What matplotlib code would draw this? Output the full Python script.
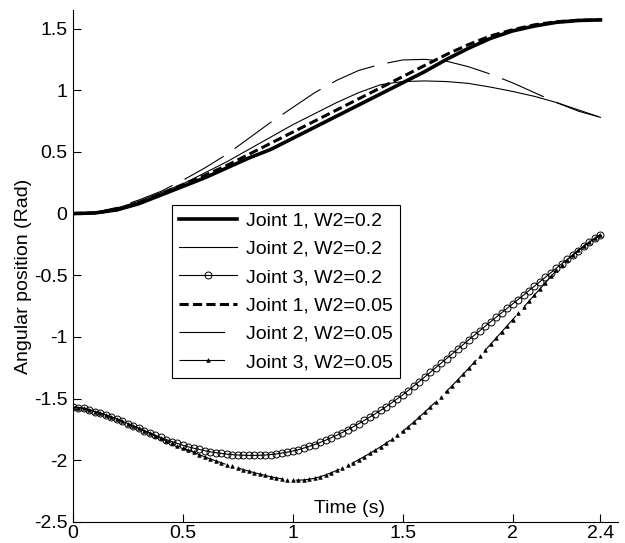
import numpy as np
import matplotlib
matplotlib.use("Agg")
import matplotlib.pyplot as plt

plt.rcParams['font.family'] = ['Liberation Sans', 'DejaVu Sans']

# ---- data ----
t_coarse = np.round(np.arange(0, 2.41, 0.1), 3)          # s
joint1_w02 = [0, 0.005, 0.03, 0.08, 0.15, 0.22, 0.29, 0.37, 0.45, 0.52, 0.61, 0.70, 0.79,
              0.88, 0.97, 1.06, 1.15, 1.25, 1.34, 1.42, 1.48, 1.52, 1.55, 1.565, 1.57]
joint2_w02 = [0, 0.01, 0.045, 0.10, 0.17, 0.24, 0.33, 0.42, 0.52, 0.62, 0.72, 0.81, 0.90,
              0.98, 1.045, 1.07, 1.075, 1.07, 1.055, 1.025, 0.99, 0.95, 0.90, 0.84, 0.78]
joint1_w005 = [0, 0.005, 0.03, 0.085, 0.16, 0.235, 0.31, 0.39, 0.48, 0.57, 0.66, 0.75, 0.84,
               0.93, 1.02, 1.11, 1.20, 1.29, 1.37, 1.44, 1.49, 1.53, 1.555, 1.567, 1.57]
joint2_w005 = [0, 0.01, 0.05, 0.11, 0.18, 0.27, 0.37, 0.48, 0.61, 0.74, 0.86, 0.98, 1.08,
               1.16, 1.21, 1.245, 1.25, 1.235, 1.19, 1.13, 1.06, 0.98, 0.90, 0.83, 0.78]

t_fine = np.linspace(0, 2.4, 97)                           # s, 0.025 step
joint3_w02 = [-1.570, -1.572, -1.579, -1.590, -1.605, -1.618, -1.633, -1.649, -1.665,
              -1.683, -1.702, -1.721, -1.740, -1.759, -1.778, -1.797, -1.815,
              -1.832, -1.848, -1.863, -1.878, -1.891, -1.902, -1.912, -1.922,
              -1.931, -1.938, -1.944, -1.950, -1.954, -1.957, -1.959, -1.960,
              -1.960, -1.959, -1.957, -1.953, -1.948, -1.941, -1.934, -1.925,
              -1.914, -1.901, -1.887, -1.872, -1.855, -1.837, -1.817, -1.797,
              -1.775, -1.752, -1.728, -1.703, -1.677, -1.650, -1.623, -1.595,
              -1.565, -1.534, -1.502, -1.470, -1.435, -1.399, -1.362, -1.325,
              -1.288, -1.250, -1.213, -1.175, -1.138, -1.100, -1.063, -1.025,
              -0.988, -0.951, -0.914, -0.877, -0.841, -0.805, -0.769, -0.733,
              -0.697, -0.661, -0.624, -0.588, -0.552, -0.515, -0.479, -0.442,
              -0.406, -0.371, -0.335, -0.300, -0.266, -0.233, -0.201, -0.170]
joint3_w005 = [-1.570, -1.572, -1.579, -1.590, -1.605, -1.618, -1.633, -1.649, -1.665,
               -1.683, -1.702, -1.722, -1.742, -1.762, -1.782, -1.802, -1.823,
               -1.843, -1.862, -1.881, -1.900, -1.918, -1.936, -1.954, -1.972,
               -1.989, -2.005, -2.020, -2.035, -2.049, -2.062, -2.075, -2.088,
               -2.100, -2.112, -2.123, -2.133, -2.142, -2.150, -2.156, -2.160,
               -2.161, -2.159, -2.153, -2.145, -2.133, -2.118, -2.101, -2.082,
               -2.062, -2.041, -2.019, -1.995, -1.970, -1.944, -1.917, -1.890,
               -1.861, -1.830, -1.798, -1.765, -1.729, -1.691, -1.651, -1.610,
               -1.568, -1.526, -1.483, -1.440, -1.395, -1.349, -1.302, -1.255,
               -1.207, -1.158, -1.109, -1.060, -1.010, -0.960, -0.910, -0.860,
               -0.810, -0.760, -0.710, -0.660, -0.610, -0.560, -0.510, -0.460,
               -0.415, -0.373, -0.333, -0.295, -0.261, -0.229, -0.199, -0.170]

labels = ['Joint 1, W2=0.2', 'Joint 2, W2=0.2', 'Joint 3, W2=0.2',
          'Joint 1, W2=0.05', 'Joint 2, W2=0.05', 'Joint 3, W2=0.05']
xticks = [0, 0.5, 1, 1.5, 2, 2.4]
xticklabels = ['0', '0.5', '1', '1.5', '2', '2.4']
yticks = [-2.5, -2, -1.5, -1, -0.5, 0, 0.5, 1, 1.5]
yticklabels = ['-2.5', '-2', '-1.5', '-1', '-0.5', '0', '0.5', '1', '1.5']

# ---- figure ----
fig = plt.figure(figsize=(6.25, 5.43), dpi=100)
ax = fig.add_axes([73 / 625, 21 / 543, 545 / 625, 512 / 543])

thin = 0.8
ax.plot(t_coarse, joint1_w02, color='black', lw=2.6, label=labels[0])
ax.plot(t_coarse, joint2_w02, color='black', lw=thin, label=labels[1])
ax.plot(t_fine, joint3_w02, color='black', lw=thin, marker='o', markersize=5,
        markerfacecolor='none', markeredgewidth=0.7, label=labels[2])
ax.plot(t_coarse, joint1_w005, color='black', lw=2.2, dashes=(3.0, 1.4), label=labels[3])
ax.plot(t_coarse, joint2_w005, color='black', lw=thin, dashes=(41, 12), label=labels[4])
ax.plot(t_fine, joint3_w005, color='black', lw=thin, dashes=(41, 12), marker='^',
        markersize=2.6, markeredgewidth=0.5, label=labels[5])

ax.set_xlim(0, 2.48)
ax.set_ylim(-2.5, 1.65)
ax.set_xticks(xticks)
ax.set_xticklabels(xticklabels)
ax.set_yticks(yticks)
ax.set_yticklabels(yticklabels)
ax.spines['top'].set_visible(False)
ax.spines['right'].set_visible(False)
for s in ('left', 'bottom'):
    ax.spines[s].set_linewidth(0.8)
ax.tick_params(axis='both', direction='in', length=5.5, width=0.8, labelsize=14)
ax.tick_params(axis='x', pad=2.5)
ax.tick_params(axis='y', pad=4)

ax.set_xlabel('Time (s)', fontsize=14)
ax.xaxis.label.set_va('center')
ax.xaxis.set_label_coords(0.508, 0.027)
ax.set_ylabel('Angular position (Rad)', fontsize=14)
ax.yaxis.set_label_coords(-0.075, 0.48)

leg = ax.legend(loc='upper left', bbox_to_anchor=(0.182, 0.619), fontsize=14,
                frameon=True, fancybox=False, edgecolor='black', framealpha=1,
                handlelength=3.0, handletextpad=0.45, labelspacing=0.55,
                borderpad=0.35, borderaxespad=0.0, numpoints=1)
leg.get_frame().set_linewidth(0.8)

fig.savefig('out.png', dpi=100)
